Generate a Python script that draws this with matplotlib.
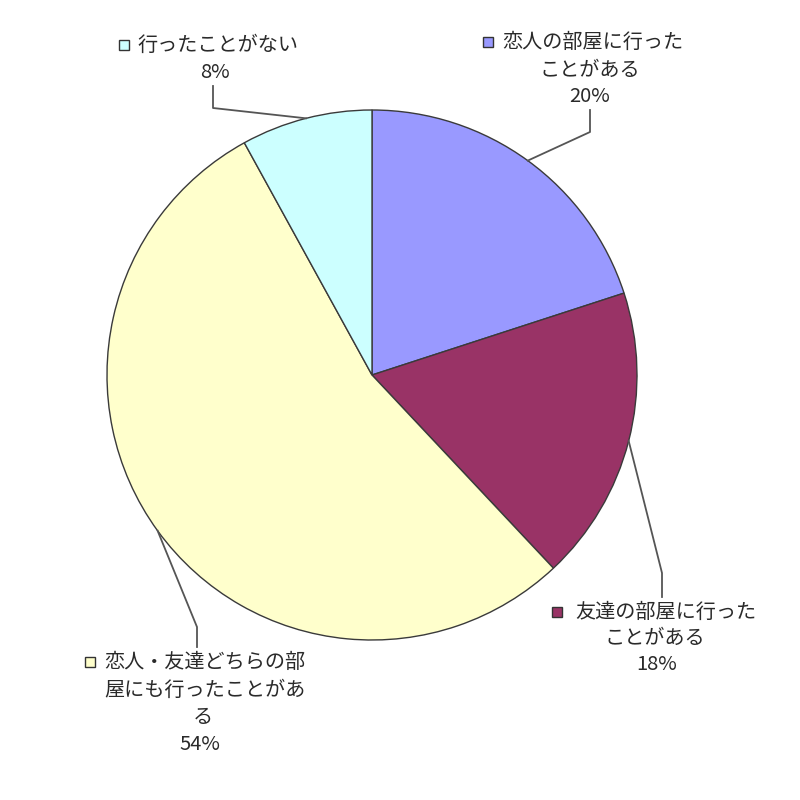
import matplotlib
matplotlib.use("Agg")
import matplotlib.pyplot as plt
import numpy as np

plt.rcParams['font.family'] = ['Noto Sans CJK JP', 'DejaVu Sans']

# Data
categories = ["恋人の部屋に行ったことがある", "友達の部屋に行ったことがある",
              "恋人・友達どちらの部屋にも行ったことがある", "行ったことがない"]
values = [20, 18, 54, 8]
colors = ["#9999FF", "#993366", "#FFFFCC", "#CCFFFF"]
# label lines (text wrapping as in original)
label_lines = [["恋人の部屋に行った", "ことがある"],
               ["友達の部屋に行った", "ことがある"],
               ["恋人・友達どちらの部", "屋にも行ったことがあ", "る"],
               ["行ったことがない"]]

W = H = 800
fig = plt.figure(figsize=(8, 8), dpi=100)
ax = fig.add_axes([0, 0, 1, 1])

def P(x, y):
    return x, H - y

cx, cy = 372, 375
R = 265
wedges, _ = ax.pie(values, colors=colors, startangle=90, counterclock=False,
                   center=P(cx, cy), radius=R,
                   wedgeprops=dict(edgecolor="#3a3a3a", linewidth=1.0))
ax.set_xlim(0, W)
ax.set_ylim(0, H)
ax.set_aspect('equal')
ax.axis('off')

# Label layout: (first line center x, line ys), square pos, elbow pts
layout = [
    dict(xs=[593, 590, 590], ys=[42, 70, 97], sq=(488, 42),
         path=[(590, 132), (590, 110)]),
    dict(xs=[666, 655, 657], ys=[612, 638, 665], sq=(557, 612),
         path=[(662, 573), (662, 597)]),
    dict(xs=[205, 205, 203, 200], ys=[662, 690, 718, 745], sq=(90, 662),
         path=[(197, 627), (197, 647)]),
    dict(xs=[218, 215], ys=[45, 72], sq=(124, 45),
         path=[(213, 108), (213, 86)]),
]

fs = 14.5
tc = "#2a2a2a"
for w, lines, val, col, lay in zip(wedges, label_lines, values, colors, layout):
    texts = lines + [f"{val}%"]
    for t, x, y in zip(texts, lay["xs"], lay["ys"]):
        ax.text(*P(x, y), t, ha='center', va='center', fontsize=fs, color=tc)
    ax.plot(*P(*lay["sq"]), marker='s', markersize=7.5, markerfacecolor=col,
            markeredgecolor="#333333", markeredgewidth=1.0, linestyle='none')
    mid = np.deg2rad((w.theta1 + w.theta2) / 2)
    ex, ey = w.center[0] + R * np.cos(mid), w.center[1] + R * np.sin(mid)
    pts = [(ex, ey)] + [P(*p) for p in lay["path"]]
    ax.plot([p[0] for p in pts], [p[1] for p in pts], color="#555555", lw=1.3)

fig.savefig("out.png", dpi=100, facecolor="white")
